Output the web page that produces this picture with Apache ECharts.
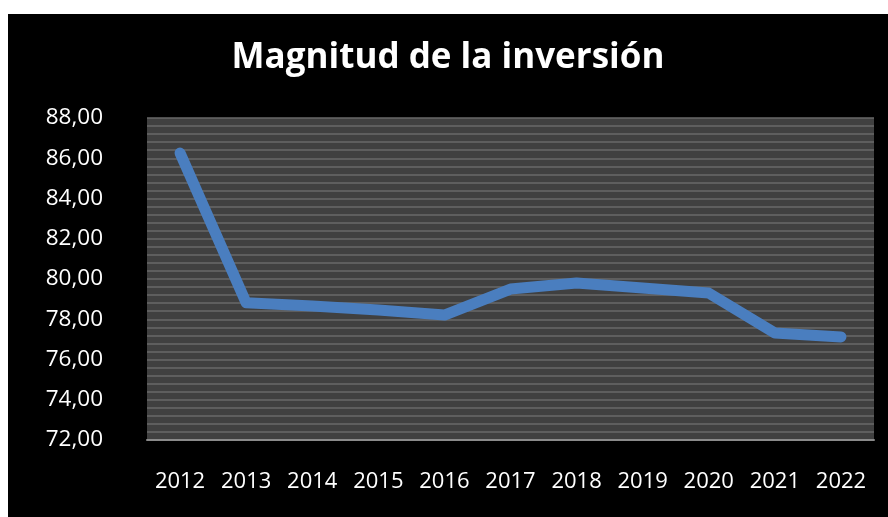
<!DOCTYPE html>
<html>
<head>
<meta charset="utf-8">
<script src="https://cdn.jsdelivr.net/npm/echarts@6/dist/echarts.min.js"></script>
<style>
	html, body { margin: 0; padding: 0; background: #fff; }
	#wrap { position: relative; width: 888px; height: 517px; background: #fff; overflow: hidden; }
	#chart { position: absolute; left: 8px; top: 14px; width: 880px; height: 503px; background: #000; }
</style>
</head>
<body>
<div id="wrap"><div id="chart"></div></div>
<script type="text/javascript">
	// datos
	var years = ['2012', '2013', '2014', '2015', '2016', '2017', '2018', '2019', '2020', '2021', '2022'];
	var magnitud = [86.26, 78.82, 78.66, 78.46, 78.21, 79.50, 79.80, 79.55, 79.30, 77.32, 77.12];
	var yMin = 72, yMax = 88, yStep = 2;

	var myChart = echarts.init(document.getElementById('chart'));
	var option = {
		backgroundColor : '#000',
		title : {
			text : 'Magnitud de la inversión',
			left : 'center',
			top : 22,
			textStyle : {
				color : '#fff',
				fontFamily : 'Open Sans',
				fontWeight : 'bold',
				fontSize : 35
			}
		},
		grid : {
			left : 139,
			right : 14,
			top : 104,
			bottom : 77,
			show : true,
			backgroundColor : '#404040',
			borderWidth : 0
		},
		xAxis : {
			type : 'category',
			data : years,
			boundaryGap : true,
			axisLine : { lineStyle : { color : '#8a8a8a', width : 2 } },
			axisTick : { show : false },
			axisLabel : {
				color : '#fff',
				fontFamily : 'Open Sans',
				fontSize : 22,
				margin : 31
			}
		},
		yAxis : {
			type : 'value',
			min : yMin,
			max : yMax,
			interval : yStep,
			axisLine : { show : false },
			axisTick : { show : false },
			axisLabel : {
				color : '#fff',
				fontFamily : 'Open Sans',
				fontSize : 22.5,
				margin : 44,
				formatter : function(v) {
					return v.toFixed(2).replace('.', ',');
				}
			},
			splitLine : { lineStyle : { color : '#686868', width : 1.5 } },
			minorTick : { show : false, splitNumber : 5 },
			minorSplitLine : { show : true, lineStyle : { color : '#686868', width : 1.5 } }
		},
		series : [ {
			name : 'Magnitud',
			type : 'line',
			data : magnitud,
			symbol : 'none',
			lineStyle : { color : '#4a7ebf', width : 11, cap : 'round', join : 'round' }
		} ]
	};
	myChart.setOption(option);
</script>
</body>
</html>
